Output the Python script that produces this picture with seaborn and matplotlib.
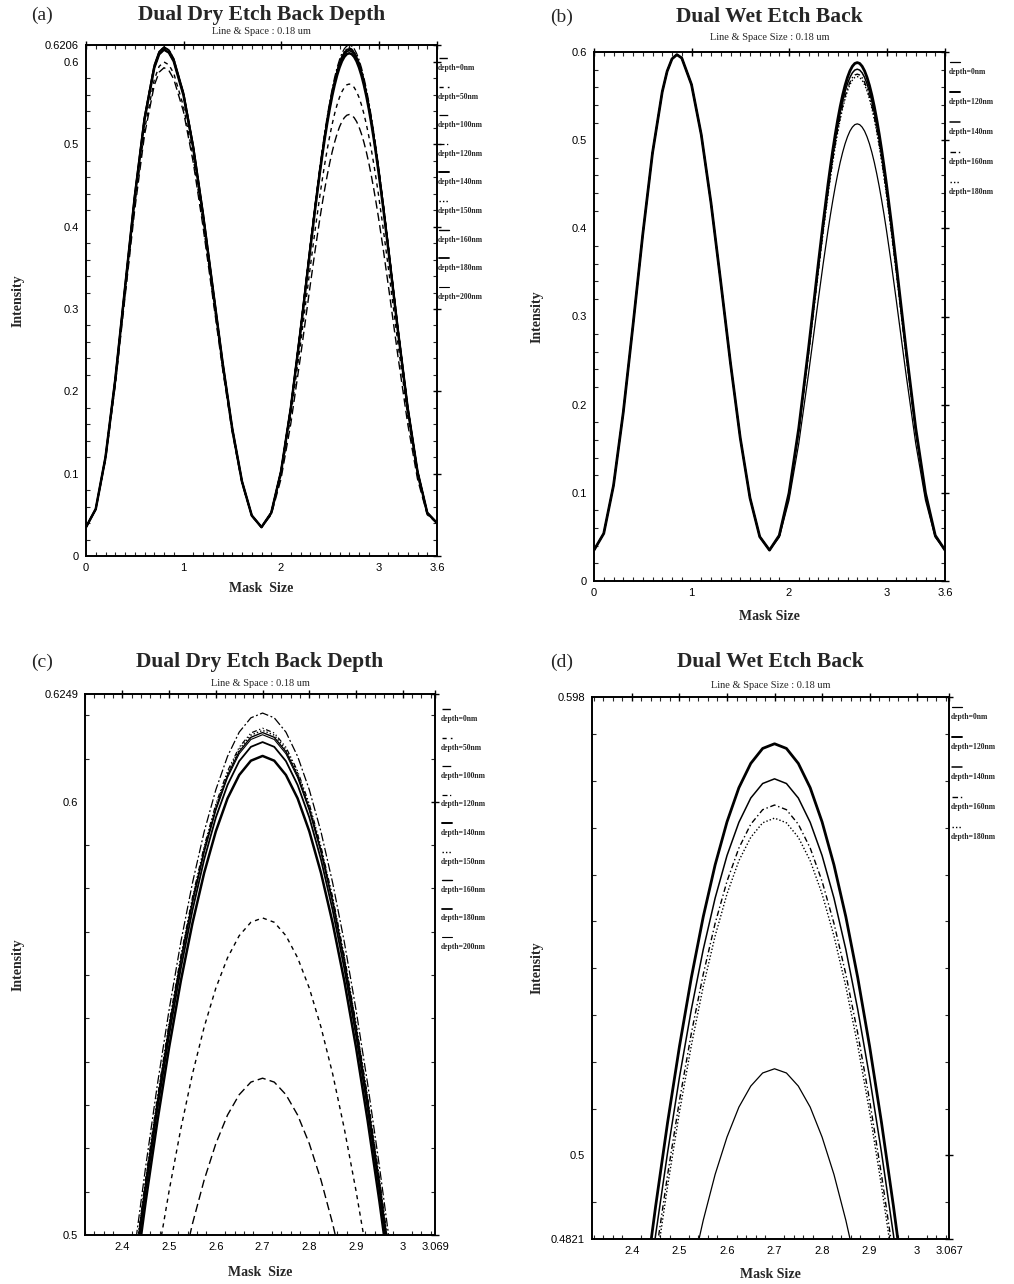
import matplotlib
matplotlib.use("Agg")
import matplotlib.pyplot as plt
from matplotlib.lines import Line2D
from matplotlib.ticker import MultipleLocator
import pandas as pd
import seaborn as sns

# ---------------------------------------------------------------- data
# mask position (um) of the sampled aerial-image intensity profiles
x_lobe1 = [0.0, 0.1, 0.2, 0.3, 0.4, 0.5, 0.6, 0.7, 0.75, 0.8, 0.85, 0.9,
           1.0, 1.1, 1.2, 1.3, 1.4, 1.5, 1.6, 1.7]
x_lobe2 = [1.8, 1.9, 2.0, 2.1, 2.2, 2.3, 2.35, 2.4, 2.425, 2.45, 2.475, 2.5,
           2.525, 2.55, 2.575, 2.6, 2.625, 2.65, 2.675, 2.7, 2.725, 2.75,
           2.775, 2.8, 2.825, 2.85, 2.875, 2.9, 2.925, 2.95, 2.975, 3.0,
           3.05, 3.1, 3.2, 3.3, 3.4, 3.5, 3.6]

# dry etch back: first (unetched) space, grouped by peak height
dry_lobe1_593 = [0.0350, 0.0563, 0.1167, 0.2073, 0.3140, 0.4207, 0.5113, 0.5717, 0.5876, 0.5930,
                 0.5896, 0.5793, 0.5397, 0.4780, 0.4002, 0.3140, 0.2278, 0.1500, 0.0883, 0.0487]
dry_lobe1_600 = [0.0350, 0.0565, 0.1177, 0.2094, 0.3175, 0.4256, 0.5173, 0.5785, 0.5946, 0.6000,
                 0.5965, 0.5862, 0.5460, 0.4836, 0.4048, 0.3175, 0.2302, 0.1514, 0.0890, 0.0488]
dry_lobe1_615 = [0.0350, 0.0571, 0.1199, 0.2140, 0.3250, 0.4360, 0.5301, 0.5929, 0.6094, 0.6150,
                 0.6114, 0.6008, 0.5596, 0.4955, 0.4146, 0.3250, 0.2354, 0.1545, 0.0904, 0.0492]
dry_lobe1_618 = [0.0350, 0.0572, 0.1204, 0.2150, 0.3265, 0.4380, 0.5326, 0.5958, 0.6124, 0.6180,
                 0.6144, 0.6037, 0.5623, 0.4978, 0.4166, 0.3265, 0.2364, 0.1552, 0.0907, 0.0493]

# dry etch back: second (etched) space, one profile per etch depth
dry_0nm = [0.0350, 0.0501, 0.0936, 0.1603, 0.2421, 0.3291, 0.3713, 0.4109, 0.4293, 0.4467,
           0.4628, 0.4776, 0.4909, 0.5026, 0.5127, 0.5211, 0.5277, 0.5324, 0.5353, 0.5362,
           0.5353, 0.5324, 0.5277, 0.5211, 0.5127, 0.5026, 0.4909, 0.4776, 0.4628, 0.4467,
           0.4293, 0.4109, 0.3713, 0.3291, 0.2421, 0.1603, 0.0936, 0.0501, 0.0400]
dry_50nm = [0.0350, 0.0512, 0.0980, 0.1696, 0.2574, 0.3508, 0.3961, 0.4387, 0.4585, 0.4771,
            0.4944, 0.5102, 0.5245, 0.5372, 0.5480, 0.5570, 0.5640, 0.5691, 0.5722, 0.5732,
            0.5722, 0.5691, 0.5640, 0.5570, 0.5480, 0.5372, 0.5245, 0.5102, 0.4944, 0.4771,
            0.4585, 0.4387, 0.3961, 0.3508, 0.2574, 0.1696, 0.0980, 0.0512, 0.0400]
dry_100nm = [0.0350, 0.0527, 0.1035, 0.1814, 0.2769, 0.3786, 0.4279, 0.4741, 0.4957, 0.5159,
             0.5348, 0.5520, 0.5676, 0.5813, 0.5931, 0.6028, 0.6105, 0.6161, 0.6194, 0.6205,
             0.6194, 0.6161, 0.6105, 0.6028, 0.5931, 0.5813, 0.5676, 0.5520, 0.5348, 0.5159,
             0.4957, 0.4741, 0.4279, 0.3786, 0.2769, 0.1814, 0.1035, 0.0527, 0.0400]
dry_120nm = [0.0350, 0.0526, 0.1031, 0.1805, 0.2755, 0.3765, 0.4255, 0.4715, 0.4929, 0.5131,
             0.5318, 0.5489, 0.5644, 0.5780, 0.5897, 0.5995, 0.6071, 0.6126, 0.6159, 0.6170,
             0.6159, 0.6126, 0.6071, 0.5995, 0.5897, 0.5780, 0.5644, 0.5489, 0.5318, 0.5131,
             0.4929, 0.4715, 0.4255, 0.3765, 0.2755, 0.1805, 0.1031, 0.0526, 0.0400]
dry_140nm = [0.0350, 0.0524, 0.1023, 0.1789, 0.2728, 0.3728, 0.4212, 0.4667, 0.4879, 0.5078,
             0.5263, 0.5433, 0.5586, 0.5720, 0.5836, 0.5932, 0.6008, 0.6062, 0.6095, 0.6106,
             0.6095, 0.6062, 0.6008, 0.5932, 0.5836, 0.5720, 0.5586, 0.5433, 0.5263, 0.5078,
             0.4879, 0.4667, 0.4212, 0.3728, 0.2728, 0.1789, 0.1023, 0.0524, 0.0400]
dry_150nm = [0.0350, 0.0525, 0.1030, 0.1804, 0.2753, 0.3762, 0.4252, 0.4711, 0.4925, 0.5126,
             0.5313, 0.5485, 0.5639, 0.5776, 0.5893, 0.5990, 0.6066, 0.6121, 0.6154, 0.6165,
             0.6154, 0.6121, 0.6066, 0.5990, 0.5893, 0.5776, 0.5639, 0.5485, 0.5313, 0.5126,
             0.4925, 0.4711, 0.4252, 0.3762, 0.2753, 0.1804, 0.1030, 0.0525, 0.0400]
dry_160nm = [0.0350, 0.0525, 0.1030, 0.1803, 0.2751, 0.3760, 0.4249, 0.4708, 0.4921, 0.5122,
             0.5309, 0.5480, 0.5635, 0.5771, 0.5888, 0.5985, 0.6061, 0.6116, 0.6149, 0.6160,
             0.6149, 0.6116, 0.6061, 0.5985, 0.5888, 0.5771, 0.5635, 0.5480, 0.5309, 0.5122,
             0.4921, 0.4708, 0.4249, 0.3760, 0.2751, 0.1803, 0.1030, 0.0525, 0.0400]
dry_180nm = [0.0350, 0.0525, 0.1027, 0.1797, 0.2741, 0.3747, 0.4234, 0.4691, 0.4904, 0.5104,
             0.5290, 0.5461, 0.5615, 0.5750, 0.5867, 0.5964, 0.6039, 0.6094, 0.6127, 0.6138,
             0.6127, 0.6094, 0.6039, 0.5964, 0.5867, 0.5750, 0.5615, 0.5461, 0.5290, 0.5104,
             0.4904, 0.4691, 0.4234, 0.3747, 0.2741, 0.1797, 0.1027, 0.0525, 0.0400]
dry_200nm = [0.0350, 0.0525, 0.1029, 0.1801, 0.2749, 0.3757, 0.4245, 0.4704, 0.4917, 0.5118,
             0.5305, 0.5476, 0.5630, 0.5766, 0.5883, 0.5980, 0.6056, 0.6111, 0.6144, 0.6155,
             0.6144, 0.6111, 0.6056, 0.5980, 0.5883, 0.5766, 0.5630, 0.5476, 0.5305, 0.5118,
             0.4917, 0.4704, 0.4245, 0.3757, 0.2749, 0.1801, 0.1029, 0.0525, 0.0400]

# wet etch back: first space is common to every depth
wet_lobe1 = [0.0350, 0.0539, 0.1083, 0.1911, 0.2901, 0.3929, 0.4854, 0.5549, 0.5781, 0.5922,
             0.5970, 0.5932, 0.5631, 0.5063, 0.4289, 0.3392, 0.2470, 0.1623, 0.0942, 0.0502]
wet_0nm = [0.0350, 0.0496, 0.0916, 0.1559, 0.2348, 0.3187, 0.3594, 0.3976, 0.4154, 0.4321,
           0.4477, 0.4619, 0.4748, 0.4861, 0.4959, 0.5039, 0.5103, 0.5148, 0.5176, 0.5185,
           0.5176, 0.5148, 0.5103, 0.5039, 0.4959, 0.4861, 0.4748, 0.4619, 0.4477, 0.4321,
           0.4154, 0.3976, 0.3594, 0.3187, 0.2348, 0.1559, 0.0916, 0.0496, 0.0350]
wet_120nm = [0.0350, 0.0517, 0.0997, 0.1733, 0.2635, 0.3595, 0.4061, 0.4498, 0.4701, 0.4892,
             0.5070, 0.5233, 0.5380, 0.5510, 0.5621, 0.5713, 0.5786, 0.5838, 0.5870, 0.5880,
             0.5870, 0.5838, 0.5786, 0.5713, 0.5621, 0.5510, 0.5380, 0.5233, 0.5070, 0.4892,
             0.4701, 0.4498, 0.4061, 0.3595, 0.2635, 0.1733, 0.0997, 0.0517, 0.0350]
wet_140nm = [0.0350, 0.0514, 0.0988, 0.1714, 0.2604, 0.3551, 0.4010, 0.4441, 0.4642, 0.4831,
             0.5006, 0.5167, 0.5312, 0.5440, 0.5550, 0.5641, 0.5712, 0.5764, 0.5795, 0.5805,
             0.5795, 0.5764, 0.5712, 0.5641, 0.5550, 0.5440, 0.5312, 0.5167, 0.5006, 0.4831,
             0.4642, 0.4441, 0.4010, 0.3551, 0.2604, 0.1714, 0.0988, 0.0514, 0.0350]
wet_160nm = [0.0350, 0.0513, 0.0982, 0.1700, 0.2581, 0.3518, 0.3973, 0.4399, 0.4598, 0.4785,
             0.4958, 0.5117, 0.5261, 0.5387, 0.5496, 0.5586, 0.5657, 0.5708, 0.5739, 0.5749,
             0.5739, 0.5708, 0.5657, 0.5586, 0.5496, 0.5387, 0.5261, 0.5117, 0.4958, 0.4785,
             0.4598, 0.4399, 0.3973, 0.3518, 0.2581, 0.1700, 0.0982, 0.0513, 0.0350]
wet_180nm = [0.0350, 0.0512, 0.0978, 0.1693, 0.2569, 0.3502, 0.3954, 0.4378, 0.4576, 0.4762,
             0.4934, 0.5093, 0.5235, 0.5361, 0.5469, 0.5559, 0.5630, 0.5680, 0.5711, 0.5721,
             0.5711, 0.5680, 0.5630, 0.5559, 0.5469, 0.5361, 0.5235, 0.5093, 0.4934, 0.4762,
             0.4576, 0.4378, 0.3954, 0.3502, 0.2569, 0.1693, 0.0978, 0.0512, 0.0350]

dry_labels = ["depth=0nm", "depth=50nm", "depth=100nm", "depth=120nm", "depth=140nm",
              "depth=150nm", "depth=160nm", "depth=180nm", "depth=200nm"]
dry_first = [dry_lobe1_593, dry_lobe1_600, dry_lobe1_618, dry_lobe1_615, dry_lobe1_615,
             dry_lobe1_618, dry_lobe1_615, dry_lobe1_618, dry_lobe1_615]
dry_second = [dry_0nm, dry_50nm, dry_100nm, dry_120nm, dry_140nm,
              dry_150nm, dry_160nm, dry_180nm, dry_200nm]

wet_labels = ["depth=0nm", "depth=120nm", "depth=140nm", "depth=160nm", "depth=180nm"]
wet_second = [wet_0nm, wet_120nm, wet_140nm, wet_160nm, wet_180nm]

# line styles (dash pattern, width) for each depth
dry_styles = [((6, 3), 1.0), ((3, 3), 1.0), ((7, 2, 1.5, 2), 0.9), ((4, 2, 1, 2, 1, 2), 0.9),
              ("solid", 1.8), ((1, 1.5), 1.0), ("solid", 1.0), ("solid", 1.3), ("solid", 0.8)]
wet_styles = [("solid", 0.9), ("solid", 2.0), ("solid", 1.1), ((4, 2, 1, 2), 1.0), ((1, 1.5), 1.0)]


def long_table(labels, firsts, seconds):
    rows = []
    for lab, a, b in zip(labels, firsts, seconds):
        for xv, yv in zip(x_lobe1 + x_lobe2, a + b):
            rows.append((lab, xv, yv))
    return pd.DataFrame(rows, columns=["depth", "mask", "intensity"])


dry_df = long_table(dry_labels, dry_first, dry_second)
wet_df = long_table(wet_labels, [wet_lobe1] * len(wet_labels), wet_second)

# ---------------------------------------------------------------- figure
sns.set_style("white")
plt.rcParams["font.family"] = ["Liberation Sans", "DejaVu Sans"]
SERIF = ["Liberation Serif", "DejaVu Serif"]

W, H = 1014, 1284
fig = plt.figure(figsize=(W / 100, H / 100), dpi=100)


def fx(px):
    return px / W


def fy(py):
    return 1 - py / H


def apply_style(line, style):
    dash, lw = style
    line.set_linewidth(lw)
    line.set_color("black")
    if dash == "solid":
        line.set_linestyle("-")
    else:
        line.set_linestyle((0, dash))


panels = [
    dict(box=(86, 45, 437, 556), df=dry_df, labels=dry_labels, styles=dry_styles,
         xlim=(0, 3.6), ylim=(0, 0.6206),
         xt=[0, 1, 2, 3, 3.6], xtl=["0", "1", "2", "3", "3.6"],
         yt=[0, 0.1, 0.2, 0.3, 0.4, 0.5, 0.6, 0.6206],
         ytl=["0", "0.1", "0.2", "0.3", "0.4", "0.5", "0.6", "0.6206"],
         xmin=0.1, ymin=0.02, letter="(a)", title="Dual Dry Etch Back Depth",
         sub="Line & Space : 0.18 um", xlabel="Mask  Size",
         title_y=15, sub_y=31, letter_x=42, xlabel_y=589, ylabel_x=18,
         leg_x=438, leg_y0=68, leg_dy=28.6),
    dict(box=(594, 52, 945, 581), df=wet_df, labels=wet_labels, styles=wet_styles,
         xlim=(0, 3.6), ylim=(0, 0.6),
         xt=[0, 1, 2, 3, 3.6], xtl=["0", "1", "2", "3", "3.6"],
         yt=[0, 0.1, 0.2, 0.3, 0.4, 0.5, 0.6],
         ytl=["0", "0.1", "0.2", "0.3", "0.4", "0.5", "0.6"],
         xmin=0.1, ymin=0.02, letter="(b)", title="Dual Wet Etch Back",
         sub="Line & Space Size : 0.18 um", xlabel="Mask Size",
         title_y=17, sub_y=38, letter_x=562, xlabel_y=617, ylabel_x=537,
         leg_x=949, leg_y0=72, leg_dy=30),
    dict(box=(85, 694, 435, 1235), df=dry_df, labels=dry_labels, styles=dry_styles,
         xlim=(2.32, 3.069), ylim=(0.5, 0.6249),
         xt=[2.4, 2.5, 2.6, 2.7, 2.8, 2.9, 3.0, 3.069],
         xtl=["2.4", "2.5", "2.6", "2.7", "2.8", "2.9", "3", "3.069"],
         yt=[0.5, 0.6, 0.6249], ytl=["0.5", "0.6", "0.6249"],
         xmin=0.02, ymin=0.01, letter="(c)", title="Dual Dry Etch Back Depth",
         sub="Line & Space : 0.18 um", xlabel="Mask  Size",
         title_y=662, sub_y=683, letter_x=42, xlabel_y=1272, ylabel_x=18,
         leg_x=441, leg_y0=719, leg_dy=28.5),
    dict(box=(592, 697, 949, 1239), df=wet_df, labels=wet_labels, styles=wet_styles,
         xlim=(2.316, 3.067), ylim=(0.4821, 0.598),
         xt=[2.4, 2.5, 2.6, 2.7, 2.8, 2.9, 3.0, 3.067],
         xtl=["2.4", "2.5", "2.6", "2.7", "2.8", "2.9", "3", "3.067"],
         yt=[0.4821, 0.5, 0.598], ytl=["0.4821", "0.5", "0.598"],
         xmin=0.02, ymin=0.01, letter="(d)", title="Dual Wet Etch Back",
         sub="Line & Space Size : 0.18 um", xlabel="Mask Size",
         title_y=662, sub_y=685, letter_x=562, xlabel_y=1274, ylabel_x=537,
         leg_x=951, leg_y0=717, leg_dy=30),
]

for p in panels:
    l, t, r, b = p["box"]
    ax = fig.add_axes([fx(l), fy(b), (r - l) / W, (b - t) / H])
    for lab, style in zip(p["labels"], p["styles"]):
        sub = p["df"][p["df"]["depth"] == lab]
        sns.lineplot(data=sub, x="mask", y="intensity", ax=ax, sort=False,
                     estimator=None, legend=False)
        apply_style(ax.lines[-1], style)

    ax.set_xlim(*p["xlim"])
    ax.set_ylim(*p["ylim"])
    ax.set_xticks(p["xt"])
    ax.set_xticklabels(p["xtl"])
    ax.set_yticks(p["yt"])
    ax.set_yticklabels(p["ytl"])
    ax.xaxis.set_minor_locator(MultipleLocator(p["xmin"]))
    ax.yaxis.set_minor_locator(MultipleLocator(p["ymin"]))
    ax.set_xlabel("")
    ax.set_ylabel("")
    for s in ax.spines.values():
        s.set_visible(True)
        s.set_color("black")
        s.set_linewidth(1.4)
    ax.tick_params(which="major", direction="inout", length=6, width=1.0,
                   labelsize=8, colors="black", pad=2,
                   top=True, right=True, labeltop=False, labelright=False)
    ax.tick_params(which="minor", direction="in", length=3, width=0.8,
                   top=True, right=True, bottom=True, left=True)
    ax.grid(False)
    ax.set_facecolor("white")

    cx = (l + r) / 2
    fig.text(fx(p["letter_x"]), fy(p["title_y"]), p["letter"], family=SERIF,
             fontsize=14, ha="center", va="center")
    fig.text(fx(cx), fy(p["title_y"]), p["title"], family=SERIF, fontsize=15.5,
             fontweight="bold", ha="center", va="center")
    fig.text(fx(cx), fy(p["sub_y"]), p["sub"], family=SERIF, fontsize=7.5,
             ha="center", va="center")
    fig.text(fx(cx), fy(p["xlabel_y"]), p["xlabel"], family=SERIF, fontsize=10,
             fontweight="bold", ha="center", va="center")
    fig.text(fx(p["ylabel_x"]), fy((t + b) / 2), "Intensity", family=SERIF,
             fontsize=10, fontweight="bold", ha="center", va="center", rotation=90)

    # depth key: a short line sample above each label
    for i, (lab, style) in enumerate(zip(p["labels"], p["styles"])):
        yl = p["leg_y0"] + i * p["leg_dy"]
        sample = Line2D([fx(p["leg_x"] + 1), fx(p["leg_x"] + 11)],
                        [fy(yl - 10), fy(yl - 10)], transform=fig.transFigure,
                        color="black")
        apply_style(sample, (style[0], min(style[1], 1.4)))
        fig.add_artist(sample)
        fig.text(fx(p["leg_x"]), fy(yl), lab, family=SERIF, fontsize=5.5,
                 fontweight="bold", ha="left", va="center")

fig.savefig("out.png", dpi=100, facecolor="white")
